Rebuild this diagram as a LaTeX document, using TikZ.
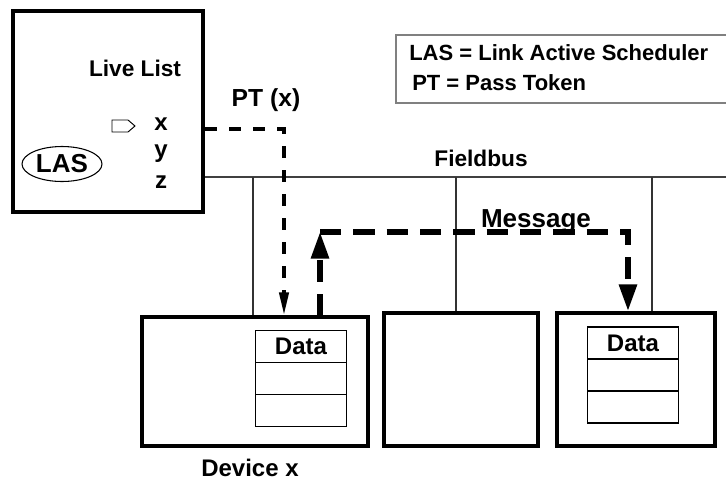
\documentclass[tikz,border=0pt]{standalone}
\usepackage{fontspec}
\setmainfont{Liberation Sans}
\usetikzlibrary{arrows.meta}
\usetikzlibrary{positioning}
\usetikzlibrary{shapes.geometric}
\newcommand{\pxu}{0.75pt}
\newcommand{\busy}{177}
\newcommand{\lblfont}{\fontsize{17}{20}\selectfont\bfseries}
\newcommand{\keyfont}{\fontsize{16.5}{20}\selectfont\bfseries}
\newcommand{\bigfont}{\fontsize{19.5}{22}\selectfont\bfseries}

\begin{document}
\begin{tikzpicture}[x=\pxu,y=-\pxu,font=\lblfont,
    txt/.style={anchor=base,inner sep=0pt},
    frame/.style 2 args={draw,line width=3pt,inner sep=0pt,
      minimum width=#1*\pxu,minimum height=#2*\pxu},
    cell/.style={draw,line width=0.9pt,inner sep=0pt,outer sep=0pt,
      minimum width=91*\pxu,minimum height=32*\pxu,
      font=\fontsize{18}{20}\selectfont\bfseries},
    bus/.style={draw=black!75,line width=1.1pt},
    tap/.style={draw=black!80,line width=0.8pt},
    token/.style={line width=2.5pt,dash pattern=on 9pt off 9pt,
      -{Triangle[length=17pt,width=7pt]}},
    message/.style={line width=3.8pt,dash pattern=on 16pt off 9pt,
      -{Triangle[length=20pt,width=13pt]}}]
  \useasboundingbox (0,0) rectangle (726,479);

  \node[frame={190}{201}] (master) at (108,111.5) {};
  \node[txt] (livelist) at (135,76) {Live List};
  \draw[line width=0.7pt] (112,120) -- (128,120) -- (135,126)
    -- (128,132) -- (112,132) -- cycle;
  \node[txt,font=\fontsize{18}{20}\selectfont\bfseries] (nodex) at (161,130) {x};
  \node[txt,font=\fontsize{18}{20}\selectfont\bfseries] (nodey) at (161,157) {y};
  \node[txt,font=\fontsize{18}{20}\selectfont\bfseries] (nodez) at (161,188) {z};
  \node[draw,ellipse,line width=0.8pt,inner sep=0pt,
    minimum width=80*\pxu,minimum height=35*\pxu,
    font=\fontsize{19.5}{24}\selectfont\bfseries] (las) at (62,164) {LAS};
  \node[txt,font=\fontsize{18.5}{22}\selectfont\bfseries] (ptlabel) at (266,106) {PT (x)};

  \draw[draw=black!50,line width=1pt] (730,35) -| (396,103) -- (730,103);
  \node[txt,anchor=base west,font=\keyfont] (key1) at (409,60)
    {LAS = Link Active Scheduler};
  \node[txt,anchor=base west,font=\keyfont] (key2) at (412,90)
    {PT = Pass Token};

  \coordinate (busend) at (726,\busy);
  \draw[bus] (master.east |- busend) -- (busend);
  \node[txt] (fieldbus) at (481,166) {Fieldbus};

  \node[frame={226}{129}] (dev1) at (255,381.5) {};
  \node[frame={154}{133}] (dev2) at (461,379.5) {};
  \node[frame={158}{133}] (dev3) at (636,379.5) {};
  \node[txt,font=\fontsize{18}{20}\selectfont\bfseries] (devx) at (250,476) {Device x};

  \node[cell] (data1a) at (301,346.5) {Data};
  \node[cell,below=0pt of data1a] (data1b) {};
  \node[cell,below=0pt of data1b] (data1c) {};
  \node[cell] (data3a) at (633,343) {Data};
  \node[cell,below=0pt of data3a] (data3b) {};
  \node[cell,below=0pt of data3b] (data3c) {};

  \coordinate (tap1) at (253,\busy);
  \coordinate (tap2) at (456,\busy);
  \coordinate (tap3) at (652,\busy);
  \draw[tap] (tap1) -- (tap1 |- dev1.north);
  \draw[tap] (tap2) -- (tap2 |- dev2.north);
  \draw[tap] (tap3) -- (tap3 |- dev3.north);

  \coordinate (ptturn) at (284,129);
  \draw[token] (ptturn -| master.east) -- (ptturn) -- (ptturn |- dev1.north);

  \coordinate (msgup) at (320,232);
  \coordinate (msgdn) at (628,232);
  \draw[message] (msgup |- dev1.north) -- (msgup);
  \draw[message] (msgup) -- (msgdn) -- (msgdn |- dev3.north);
  \node[txt,font=\bigfont] (msglabel) at (536,227) {Message};
\end{tikzpicture}
\end{document}
